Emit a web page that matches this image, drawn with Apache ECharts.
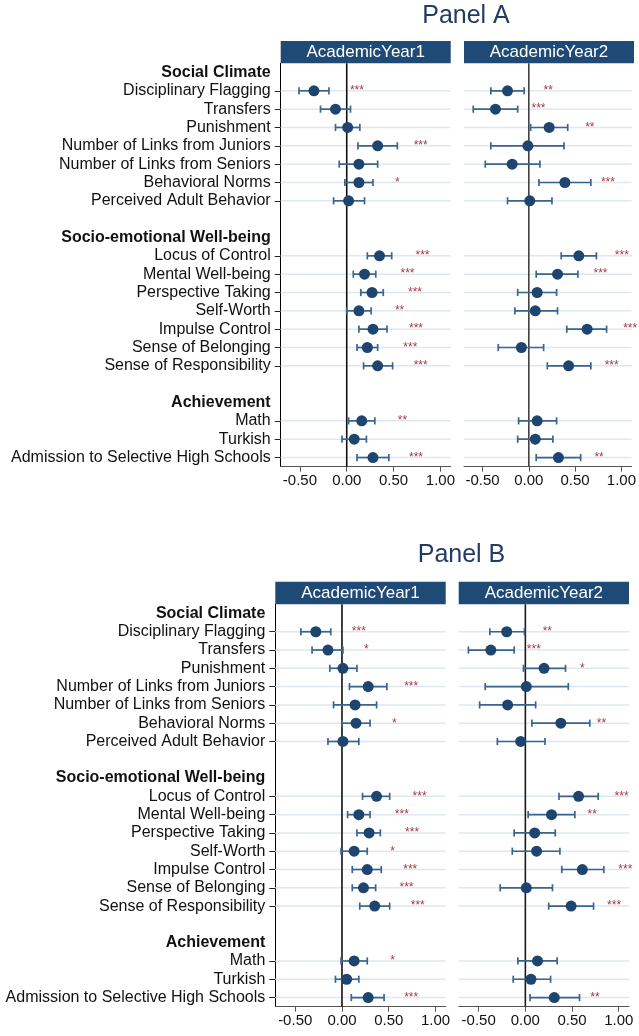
<!DOCTYPE html>
<html>
<head>
<meta charset="utf-8">
<script src="https://cdn.jsdelivr.net/npm/echarts@6/dist/echarts.min.js"></script>
<style>
  html, body { margin: 0; padding: 0; background: #fff; }
  #chart { width: 639px; height: 1036px; }
</style>
</head>
<body>
<div id="chart"></div>
<script>
// Row layout of every panel: group headings, outcomes and spacer rows.
const rows = [
  'Social Climate',
  'Disciplinary Flagging', 'Transfers', 'Punishment',
  'Number of Links from Juniors', 'Number of Links from Seniors',
  'Behavioral Norms', 'Perceived Adult Behavior',
  '',
  'Socio-emotional Well-being',
  'Locus of Control', 'Mental Well-being', 'Perspective Taking', 'Self-Worth',
  'Impulse Control', 'Sense of Belonging', 'Sense of Responsibility',
  ' ',
  'Achievement',
  'Math', 'Turkish', 'Admission to Selective High Schools'
];
const headers = ['Social Climate', 'Socio-emotional Well-being', 'Achievement'];
const panelTitles = ['Panel A', 'Panel B'];
const yearLabels = ['AcademicYear1', 'AcademicYear2'];
const xTicks = [-0.5, 0, 0.5, 1];

// Estimates (same order as the outcome rows), lower and upper confidence bounds, stars.
const coefA1 = [-0.35, -0.12, 0.01, 0.33, 0.13, 0.13, 0.02, 0.35, 0.19, 0.27, 0.13, 0.28, 0.22, 0.33, 0.16, 0.08, 0.28];
const loA1   = [-0.51, -0.28, -0.12, 0.12, -0.08, -0.02, -0.14, 0.22, 0.07, 0.15, 0.00, 0.13, 0.11, 0.18, 0.02, -0.05, 0.11];
const hiA1   = [-0.19, 0.04, 0.14, 0.54, 0.33, 0.28, 0.19, 0.48, 0.31, 0.39, 0.26, 0.43, 0.33, 0.49, 0.30, 0.21, 0.45];
const starsA1 = ['***', '', '', '***', '', '*', '', '***', '***', '***', '**', '***', '***', '***', '**', '', '***'];

const coefA2 = [-0.23, -0.36, 0.22, -0.01, -0.18, 0.39, 0.01, 0.54, 0.31, 0.09, 0.07, 0.63, -0.08, 0.43, 0.09, 0.07, 0.32];
const loA2   = [-0.41, -0.60, 0.02, -0.41, -0.47, 0.11, -0.23, 0.35, 0.08, -0.12, -0.15, 0.41, -0.33, 0.20, -0.11, -0.12, 0.08];
const hiA2   = [-0.05, -0.12, 0.42, 0.38, 0.12, 0.67, 0.25, 0.73, 0.53, 0.30, 0.31, 0.84, 0.16, 0.67, 0.30, 0.26, 0.56];
const starsA2 = ['**', '***', '**', '', '', '***', '', '***', '***', '', '', '***', '', '***', '', '', '**'];

const coefB1 = [-0.28, -0.15, 0.01, 0.28, 0.14, 0.15, 0.01, 0.37, 0.18, 0.29, 0.13, 0.27, 0.23, 0.35, 0.13, 0.05, 0.28];
const loB1   = [-0.44, -0.32, -0.13, 0.08, -0.09, 0.00, -0.15, 0.22, 0.06, 0.16, -0.01, 0.11, 0.11, 0.19, -0.01, -0.07, 0.10];
const hiB1   = [-0.12, 0.01, 0.16, 0.48, 0.37, 0.30, 0.18, 0.51, 0.30, 0.41, 0.27, 0.42, 0.36, 0.51, 0.27, 0.18, 0.45];
const starsB1 = ['***', '*', '', '***', '', '*', '', '***', '***', '***', '*', '***', '***', '***', '*', '', '***'];

const coefB2 = [-0.20, -0.37, 0.20, 0.01, -0.19, 0.38, -0.05, 0.57, 0.28, 0.10, 0.12, 0.61, 0.01, 0.49, 0.13, 0.06, 0.31];
const loB2   = [-0.38, -0.61, -0.02, -0.43, -0.49, 0.07, -0.30, 0.36, 0.03, -0.12, -0.14, 0.39, -0.27, 0.25, -0.08, -0.13, 0.05];
const hiB2   = [-0.01, -0.12, 0.43, 0.46, 0.11, 0.69, 0.21, 0.78, 0.53, 0.32, 0.37, 0.84, 0.29, 0.73, 0.34, 0.27, 0.58];
const starsB2 = ['**', '***', '*', '', '', '**', '', '***', '**', '', '', '***', '', '***', '', '', '**'];

const FONT = '"Liberation Sans", Arial, Helvetica, sans-serif';
const NAVY = '#1f4a75';
const MARKER = '#1d4570';
const BAR = '#3a6590';
const STAR = '#a63a45';
const GRIDLINE = '#dfe8ee';

// Row index of each outcome (skipping headings and spacers).
const outcomeRows = rows
  .map((r, i) => (r.trim() && !headers.includes(r)) ? i : -1)
  .filter(i => i >= 0);

// Frame geometry for the four facets.
const facets = [
  { panel: 0, year: 0, left: 280.7, width: 170, top: 63.3, height: 403.4, min: -0.705, max: 1.11,
    coef: coefA1, lo: loA1, hi: hiA1, stars: starsA1, zero: '#111' },
  { panel: 0, year: 1, left: 464, width: 170, top: 63.3, height: 403.4, min: -0.70, max: 1.11,
    coef: coefA2, lo: loA2, hi: hiA2, stars: starsA2, zero: '#404040' },
  { panel: 1, year: 0, left: 275.3, width: 170.4, top: 604.3, height: 402.4, min: -0.713, max: 1.109,
    coef: coefB1, lo: loB1, hi: hiB1, stars: starsB1, zero: '#111' },
  { panel: 1, year: 1, left: 458.7, width: 170.3, top: 604.3, height: 402.4, min: -0.714, max: 1.11,
    coef: coefB2, lo: loB2, hi: hiB2, stars: starsB2, zero: '#1a1a1a' }
];
const titlePos = [{ x: 466, y: 16 }, { x: 461.5, y: 555 }];
const stripTops = [41, 581.7];

const grids = [], xAxes = [], yAxes = [], series = [], graphics = [];

facets.forEach((f, gi) => {
  grids.push({ left: f.left, top: f.top, width: f.width, height: f.height, containLabel: false });

  xAxes.push({
    type: 'value', gridIndex: gi, min: f.min, max: f.max,
    splitLine: { show: false },
    axisLine: { show: true, onZero: false, lineStyle: { color: '#555', width: 1 } },
    axisTick: { show: true, length: 5, customValues: xTicks, lineStyle: { color: '#555' } },
    axisLabel: {
      customValues: xTicks, margin: 7, fontSize: 15, color: '#111', fontFamily: FONT,
      formatter: v => v.toFixed(2)
    }
  });

  const first = f.year === 0;
  yAxes.push({
    type: 'category', gridIndex: gi, data: rows, inverse: true, boundaryGap: true,
    axisLine: { show: first, onZero: false, lineStyle: { color: '#000', width: 1 } },
    axisTick: {
      show: first, alignWithLabel: true, length: 6,
      interval: (i, v) => outcomeRows.includes(i),
      lineStyle: { color: '#222' }
    },
    axisLabel: {
      show: first, interval: 0, margin: 10, fontSize: 16, color: '#111', fontFamily: FONT,
      formatter: v => headers.includes(v) ? '{h|' + v + '}' : v,
      rich: { h: { fontWeight: 'bold', fontSize: 16, color: '#111', fontFamily: FONT } }
    },
    splitLine: { show: false }
  });

  // horizontal guide lines at outcome rows
  series.push({
    type: 'custom', xAxisIndex: gi, yAxisIndex: gi, z: 1, silent: true,
    data: outcomeRows.map(r => [0, r]),
    encode: { x: 0, y: 1 },
    renderItem: (params, api) => {
      const y = api.coord([0, api.value(1)])[1];
      const cs = params.coordSys;
      return { type: 'line', shape: { x1: cs.x, y1: y, x2: cs.x + cs.width, y2: y },
               style: { stroke: GRIDLINE, lineWidth: 1.5 } };
    }
  });

  // reference line at zero
  series.push({
    type: 'custom', xAxisIndex: gi, yAxisIndex: gi, z: 2, silent: true,
    data: [[0, 0]],
    encode: { x: 0, y: 1 },
    renderItem: (params, api) => {
      const x = api.coord([api.value(0), 0])[0];
      const cs = params.coordSys;
      return { type: 'line', shape: { x1: x, y1: cs.y, x2: x, y2: cs.y + cs.height },
               style: { stroke: f.zero, lineWidth: 1.6 } };
    }
  });

  // confidence intervals with caps
  series.push({
    type: 'custom', xAxisIndex: gi, yAxisIndex: gi, z: 3, silent: true,
    data: outcomeRows.map((r, k) => [f.lo[k], r, f.hi[k]]),
    encode: { x: [0, 2], y: 1 },
    renderItem: (params, api) => {
      const p1 = api.coord([api.value(0), api.value(1)]);
      const p2 = api.coord([api.value(2), api.value(1)]);
      const c = 3.6;
      const st = { stroke: BAR, lineWidth: 1.7 };
      return {
        type: 'group',
        children: [
          { type: 'line', shape: { x1: p1[0], y1: p1[1], x2: p2[0], y2: p2[1] }, style: st },
          { type: 'line', shape: { x1: p1[0], y1: p1[1] - c, x2: p1[0], y2: p1[1] + c }, style: st },
          { type: 'line', shape: { x1: p2[0], y1: p2[1] - c, x2: p2[0], y2: p2[1] + c }, style: st }
        ]
      };
    }
  });

  // point estimates with significance stars
  series.push({
    type: 'scatter', xAxisIndex: gi, yAxisIndex: gi, z: 4,
    symbol: 'circle', symbolSize: 11,
    itemStyle: { color: MARKER, opacity: 1 },
    data: outcomeRows.map((r, k) => [f.coef[k], r]),
    label: {
      show: true, position: 'right', distance: 30.5,
      formatter: p => f.stars[p.dataIndex],
      fontSize: 12, color: STAR, fontFamily: FONT
    }
  });

  // facet strip
  const stripTop = stripTops[f.panel];
  graphics.push({
    type: 'rect', shape: { x: f.left, y: stripTop, width: f.width, height: f.top - stripTop },
    style: { fill: NAVY }, z: 10
  });
  graphics.push({
    type: 'text', x: f.left + f.width / 2, y: (stripTop + f.top) / 2 + 0.5, z: 11,
    style: { text: yearLabels[f.year], fill: '#fff', font: '17px ' + FONT,
             textAlign: 'center', textVerticalAlign: 'middle' }
  });
});

panelTitles.forEach((t, i) => {
  graphics.push({
    type: 'text', x: titlePos[i].x, y: titlePos[i].y, z: 11,
    style: { text: t, fill: '#243b63', font: '25px ' + FONT,
             textAlign: 'center', textVerticalAlign: 'middle' }
  });
});

const chart = echarts.init(document.getElementById('chart'), null, { renderer: 'canvas' });
chart.setOption({
  animation: false,
  backgroundColor: '#fff',
  textStyle: { fontFamily: FONT },
  grid: grids,
  xAxis: xAxes,
  yAxis: yAxes,
  series: series,
  graphic: graphics
});
</script>
</body>
</html>
